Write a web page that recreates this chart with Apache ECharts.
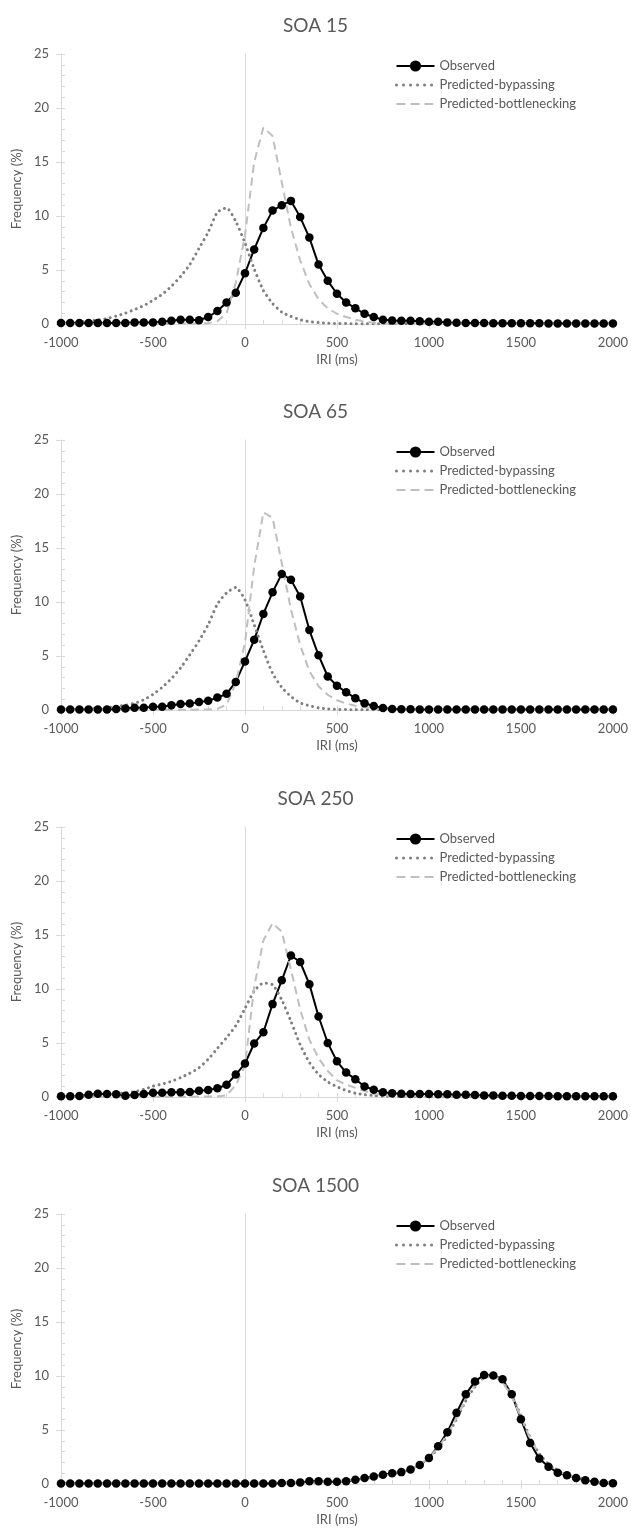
<!DOCTYPE html>
<html>
<head>
<meta charset="utf-8">
<script src="https://cdn.jsdelivr.net/npm/echarts@6/dist/echarts.min.js"></script>
<style>
html, body { margin: 0; padding: 0; background: #fff; }
#chart { width: 631px; height: 1537px; }
</style>
</head>
<body>
<div id="chart"></div>
<script>
// IRI bins (ms)
var iri = [-1000,-950,-900,-850,-800,-750,-700,-650,-600,-550,
           -500,-450,-400,-350,-300,-250,-200,-150,-100,-50,
           0,50,100,150,200,250,300,350,400,450,
           500,550,600,650,700,750,800,850,900,950,
           1000,1050,1100,1150,1200,1250,1300,1350,1400,1450,
           1500,1550,1600,1650,1700,1750,1800,1850,1900,1950,
           2000];

var panelTitles = ['SOA 15', 'SOA 65', 'SOA 250', 'SOA 1500'];
var seriesNames = ['Observed', 'Predicted-bypassing', 'Predicted-bottlenecking'];

// SOA 15
var obs15 = [0.1,0.1,0.1,0.1,0.1,0.1,0.1,0.1,0.15,0.15,
             0.15,0.2,0.3,0.4,0.4,0.35,0.65,1.2,2.0,2.9,
             4.7,6.9,8.9,10.5,11.0,11.4,9.9,8.0,5.5,4.0,
             2.8,2.0,1.45,0.95,0.65,0.4,0.32,0.3,0.3,0.25,
             0.2,0.2,0.15,0.12,0.1,0.1,0.1,0.08,0.08,0.08,
             0.06,0.06,0.06,0.05,0.05,0.05,0.05,0.05,0.05,0.05,
             0.05];
var byp15 = [0.1,0.13,0.18,0.25,0.37,0.5,0.74,1.0,1.35,1.7,
             2.2,2.75,3.5,4.4,5.5,7.0,8.5,10.35,10.75,9.5,
             7.5,5.1,3.1,1.9,1.1,0.7,0.4,0.22,0.13,0.08,
             0.05,0.04,0.03,0.03,0.02,0.02,0.02,0.02,0.02,0.02,
             0.02,0.02,0.02,0.02,0.02,0.02,0.02,0.02,0.02,0.02,
             0.02,0.02,0.02,0.02,0.02,0.02,0.02,0.02,0.02,0.02,
             0.02];
var bot15 = [0.02,0.02,0.02,0.02,0.02,0.02,0.02,0.02,0.02,0.02,
             0.03,0.03,0.04,0.04,0.05,0.05,0.08,0.25,1.0,3.8,
             8.2,15.0,18.2,17.4,13.1,8.9,5.9,3.7,2.3,1.45,
             0.95,0.65,0.4,0.22,0.12,0.07,0.05,0.04,0.03,0.03,
             0.02,0.02,0.02,0.02,0.02,0.02,0.02,0.02,0.02,0.02,
             0.02,0.02,0.02,0.02,0.02,0.02,0.02,0.02,0.02,0.02,
             0.02];

// SOA 65
var obs65 = [0.05,0.05,0.05,0.05,0.05,0.05,0.1,0.13,0.2,0.2,
             0.3,0.3,0.45,0.55,0.6,0.73,0.85,1.15,1.5,2.6,
             4.5,6.5,8.9,10.9,12.6,12.05,10.5,7.4,5.06,3.1,
             2.24,1.65,1.09,0.62,0.37,0.19,0.1,0.08,0.06,0.05,
             0.05,0.05,0.05,0.05,0.05,0.05,0.05,0.05,0.05,0.05,
             0.05,0.05,0.05,0.05,0.05,0.05,0.05,0.05,0.05,0.05,
             0.05];
var byp65 = [0.03,0.05,0.07,0.1,0.15,0.22,0.32,0.45,0.62,0.95,
             1.45,2.1,2.9,3.9,5.1,6.4,7.9,9.8,10.85,11.35,
             10.2,7.9,5.5,3.4,2.1,1.25,0.65,0.4,0.2,0.1,
             0.06,0.04,0.03,0.02,0.02,0.02,0.02,0.02,0.02,0.02,
             0.02,0.02,0.02,0.02,0.02,0.02,0.02,0.02,0.02,0.02,
             0.02,0.02,0.02,0.02,0.02,0.02,0.02,0.02,0.02,0.02,
             0.02];
var bot65 = [0.02,0.02,0.02,0.02,0.02,0.02,0.02,0.02,0.02,0.02,
             0.02,0.02,0.02,0.03,0.03,0.04,0.05,0.1,0.5,2.5,
             6.2,13.3,18.3,17.8,13.6,9.3,6.0,3.6,2.2,1.4,
             0.9,0.6,0.4,0.25,0.15,0.09,0.05,0.04,0.03,0.03,
             0.02,0.02,0.02,0.02,0.02,0.02,0.02,0.02,0.02,0.02,
             0.02,0.02,0.02,0.02,0.02,0.02,0.02,0.02,0.02,0.02,
             0.02];

// SOA 250
var obs250 = [0.06,0.06,0.1,0.2,0.3,0.27,0.25,0.12,0.18,0.27,
              0.4,0.4,0.43,0.43,0.46,0.58,0.64,0.8,1.13,2.08,
              3.1,4.95,6.0,8.6,10.8,13.1,12.5,10.45,7.45,5.0,
              3.3,2.26,1.65,0.98,0.67,0.43,0.34,0.3,0.28,0.27,
              0.27,0.26,0.25,0.2,0.2,0.18,0.15,0.15,0.12,0.12,
              0.1,0.1,0.1,0.1,0.08,0.08,0.08,0.06,0.06,0.06,
              0.06];
var byp250 = [0.05,0.07,0.1,0.13,0.17,0.22,0.3,0.38,0.5,0.7,
              1.0,1.2,1.45,1.8,2.2,2.7,3.5,4.5,5.5,6.6,
              8.2,9.8,10.55,10.4,9.0,7.0,4.85,3.2,2.1,1.4,
              0.95,0.6,0.35,0.22,0.13,0.08,0.05,0.04,0.03,0.03,
              0.02,0.02,0.02,0.02,0.02,0.02,0.02,0.02,0.02,0.02,
              0.02,0.02,0.02,0.02,0.02,0.02,0.02,0.02,0.02,0.02,
              0.02];
var bot250 = [0.02,0.02,0.02,0.02,0.02,0.02,0.02,0.02,0.02,0.02,
              0.02,0.02,0.03,0.03,0.03,0.04,0.04,0.05,0.15,1.1,
              2.9,10.2,14.5,16.1,15.3,11.8,8.1,5.3,3.6,2.4,
              1.55,1.15,0.85,0.55,0.3,0.18,0.1,0.06,0.04,0.03,
              0.02,0.02,0.02,0.02,0.02,0.02,0.02,0.02,0.02,0.02,
              0.02,0.02,0.02,0.02,0.02,0.02,0.02,0.02,0.02,0.02,
              0.02];

// SOA 1500
var obs1500 = [0.05,0.05,0.05,0.05,0.05,0.05,0.05,0.05,0.05,0.05,
               0.05,0.05,0.05,0.05,0.05,0.05,0.05,0.05,0.05,0.05,
               0.05,0.05,0.05,0.05,0.1,0.1,0.15,0.25,0.25,0.2,
               0.2,0.25,0.4,0.55,0.7,0.85,1.0,1.1,1.35,1.75,
               2.4,3.5,4.8,6.6,8.3,9.5,10.1,10.05,9.7,8.3,
               6.0,3.8,2.35,1.6,1.05,0.8,0.55,0.35,0.2,0.1,
               0.08];
var byp1500 = [0.02,0.02,0.02,0.02,0.02,0.02,0.03,0.03,0.03,0.03,
               0.03,0.03,0.04,0.04,0.04,0.05,0.05,0.05,0.06,0.06,
               0.07,0.07,0.08,0.09,0.1,0.11,0.13,0.15,0.17,0.2,
               0.24,0.3,0.38,0.5,0.63,0.78,0.93,1.1,1.35,1.75,
               2.4,3.3,4.5,6.0,7.7,9.0,9.85,10.0,9.5,8.2,
               6.3,4.3,2.8,1.85,1.25,0.85,0.6,0.4,0.25,0.15,
               0.1];
var bot1500 = [0.02,0.02,0.02,0.02,0.02,0.02,0.03,0.03,0.03,0.03,
               0.03,0.03,0.04,0.04,0.04,0.05,0.05,0.05,0.06,0.06,
               0.07,0.07,0.08,0.09,0.1,0.11,0.13,0.15,0.17,0.2,
               0.24,0.3,0.38,0.5,0.63,0.78,0.93,1.1,1.35,1.75,
               2.45,3.35,4.6,6.1,7.8,9.1,9.9,10.05,9.45,8.1,
               6.2,4.2,2.75,1.8,1.2,0.82,0.57,0.38,0.24,0.14,
               0.1];

var panels = [
    [obs15, byp15, bot15],
    [obs65, byp65, bot65],
    [obs250, byp250, bot250],
    [obs1500, byp1500, bot1500]
];

var zeroY = [324, 710, 1097, 1484];   // pixel row of y = 0 in each panel
var plotH = 270;
var txt = '#595959';
var axisGray = '#d9d9d9';
var font = 'Lato, "Open Sans", sans-serif';

function pairs(ys) {
    return iri.map(function (x, i) { return [x, ys[i]]; });
}

var option = {
    animation: false,
    backgroundColor: '#fff',
    title: [], legend: [], grid: [], xAxis: [], yAxis: [], series: []
};

panels.forEach(function (p, k) {
    var top = zeroY[k] - plotH;
    option.title.push({
        text: panelTitles[k], left: 'center', top: zeroY[k] - 313,
        textStyle: { color: txt, fontSize: 19, fontWeight: 'normal', fontFamily: font }
    });
    option.grid.push({ left: 61, right: 15, top: top, height: plotH });

    // major x axis
    option.xAxis.push({
        type: 'value', gridIndex: k, min: -1000, max: 2000, interval: 500,
        name: 'IRI (ms)', nameLocation: 'middle', nameGap: 29,
        nameTextStyle: { color: txt, fontSize: 13, fontFamily: font },
        axisLine: { onZero: false, lineStyle: { color: axisGray, width: 1 } },
        axisTick: { show: true, length: 5, lineStyle: { color: axisGray } },
        axisLabel: { color: txt, fontSize: 13, fontFamily: font, margin: 12,
                     formatter: function (v) { return String(v); } },
        splitLine: { show: false }
    });
    // minor x ticks
    option.xAxis.push({
        type: 'value', gridIndex: k, min: -1000, max: 2000, interval: 100, position: 'bottom',
        axisLine: { show: false, onZero: false },
        axisTick: { show: true, inside: true, length: 4, lineStyle: { color: axisGray } },
        axisLabel: { show: false }, splitLine: { show: false }
    });
    // major y axis
    option.yAxis.push({
        type: 'value', gridIndex: k, min: 0, max: 25, interval: 5, position: 'left',
        name: 'Frequency (%)', nameLocation: 'middle', nameGap: 36,
        nameTextStyle: { color: txt, fontSize: 13, fontFamily: font },
        axisLine: { show: true, onZero: false, lineStyle: { color: axisGray, width: 1 } },
        axisTick: { show: true, length: 5, lineStyle: { color: axisGray } },
        axisLabel: { color: txt, fontSize: 13, fontFamily: font, margin: 12 },
        splitLine: { show: false }
    });
    // minor y ticks
    option.yAxis.push({
        type: 'value', gridIndex: k, min: 0, max: 25, interval: 1, position: 'left',
        axisLine: { show: false, onZero: false },
        axisTick: { show: true, inside: true, length: 4, lineStyle: { color: axisGray } },
        axisLabel: { show: false }, splitLine: { show: false }
    });
    // vertical line at IRI = 0
    option.yAxis.push({
        type: 'value', gridIndex: k, min: 0, max: 25, position: 'left',
        axisLine: { show: true, onZero: true, onZeroAxisIndex: 2 * k, lineStyle: { color: axisGray, width: 1 } },
        axisTick: { show: false }, axisLabel: { show: false }, splitLine: { show: false }
    });

    option.legend.push({
        orient: 'vertical', left: 390, top: zeroY[k] - 270,
        itemWidth: 38, itemHeight: 14, itemGap: 5,
        data: [
            { name: seriesNames[0] },
            { name: seriesNames[1], itemStyle: { opacity: 0 },
              lineStyle: { color: '#7f7f7f', width: 3, type: [0.01, 7], cap: 'round' } },
            { name: seriesNames[2], itemStyle: { opacity: 0 },
              lineStyle: { color: '#bfbfbf', width: 2, type: [9, 5] } }
        ],
        textStyle: { color: txt, fontSize: 13, fontFamily: font, lineHeight: 14 }
    });

    var xi = 2 * k, yi = 3 * k;
    option.series.push({
        name: seriesNames[0], type: 'line', xAxisIndex: xi, yAxisIndex: yi,
        data: pairs(p[0]), symbol: 'circle', symbolSize: 8.5,
        itemStyle: { color: '#000' },
        lineStyle: { color: '#000', width: 2 }
    });
    option.series.push({
        name: seriesNames[1], type: 'line', xAxisIndex: xi, yAxisIndex: yi,
        data: pairs(p[1]), symbol: 'none', smooth: 0.2,
        itemStyle: { color: '#7f7f7f' },
        lineStyle: { color: '#7f7f7f', width: 3, type: [0.01, 5.5], cap: 'round' }
    });
    option.series.push({
        name: seriesNames[2], type: 'line', xAxisIndex: xi, yAxisIndex: yi,
        data: pairs(p[2]), symbol: 'none',
        itemStyle: { color: '#bfbfbf' },
        lineStyle: { color: '#bfbfbf', width: 2, type: [8, 5] }
    });
});

var chart = echarts.init(document.getElementById('chart'));
chart.setOption(option);
</script>
</body>
</html>
